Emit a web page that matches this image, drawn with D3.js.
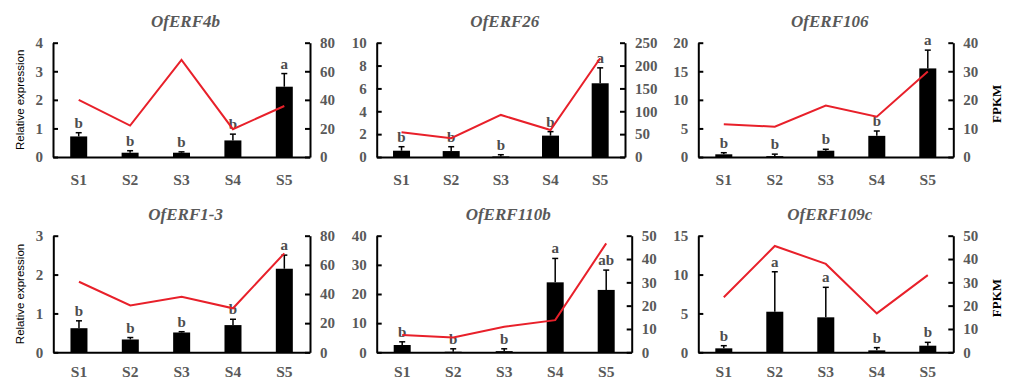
<!DOCTYPE html>
<html>
<head>
<meta charset="utf-8">
<script src="https://cdn.jsdelivr.net/npm/d3@7"></script>
<style>
  body { margin: 0; background: #fff; }
  svg { display: block; }
</style>
</head>
<body>
<svg id="chart" width="1010" height="381"></svg>
<script>
// ---------------- DATA ----------------
const categories = ["S1", "S2", "S3", "S4", "S5"];
const genes = ["OfERF4b", "OfERF26", "OfERF106", "OfERF1-3", "OfERF110b", "OfERF109c"];

// Relative expression (bars, left axis)
const relExpression = [
  [0.72, 0.15, 0.15, 0.58, 2.46],
  [0.55, 0.52, 0.05, 1.87, 6.45],
  [0.47, 0.15, 1.10, 3.70, 15.5],
  [0.62, 0.33, 0.51, 0.70, 2.15],
  [2.5, 0.2, 0.4, 24.0, 21.4],
  [0.51, 5.22, 4.50, 0.25, 0.85]
];
// Error (upper whisker size)
const relError = [
  [0.13, 0.07, 0.03, 0.22, 0.46],
  [0.35, 0.38, 0.15, 0.35, 1.35],
  [0.28, 0.35, 0.25, 0.85, 3.2],
  [0.19, 0.05, 0.02, 0.15, 0.35],
  [1.1, 1.0, 0.8, 8.2, 6.8],
  [0.34, 5.14, 3.86, 0.35, 0.43]
];
// FPKM (red line, right axis)
const fpkm = [
  [40, 22, 68, 19.5, 35.7],
  [54, 41, 92, 59, 216],
  [11.5, 10.6, 18, 14.1, 29.9],
  [48.4, 32.2, 38.1, 30.2, 67.9],
  [7.4, 6.4, 11, 13.8, 46.7],
  [23.6, 45.6, 37.9, 16.7, 33.1]
];
// Significance letters
const letters = [
  ["b", "b", "b", "b", "a"],
  ["b", "b", "b", "b", "a"],
  ["b", "b", "b", "b", "a"],
  ["b", "b", "b", "b", "a"],
  ["b", "b", "b", "a", "ab"],
  ["b", "a", "a", "b", "b"]
];
// Axis ranges / tick steps
const leftMax = [4, 10, 20, 3, 40, 15];
const leftStep = [1, 2, 5, 1, 10, 5];
const rightMax = [80, 250, 40, 80, 50, 50];
const rightStep = [20, 50, 10, 20, 10, 10];

const leftTitle = "Relative expression";
const rightTitle = "FPKM";

// ---------------- LAYOUT ----------------
const frames = [
  { x0: 53, x1: 310, y0: 42.7, y1: 157 },
  { x0: 376.7, x1: 625, y0: 42.7, y1: 157 },
  { x0: 698.3, x1: 953.3, y0: 42.7, y1: 157 },
  { x0: 53.3, x1: 310, y0: 235.7, y1: 352.3 },
  { x0: 376.7, x1: 631.7, y0: 235.7, y1: 352.3 },
  { x0: 698.3, x1: 953.3, y0: 235.7, y1: 352.3 }
];

const svg = d3.select("#chart");
svg.append("rect").attr("width", 1010).attr("height", 381).attr("fill", "#fff");

const gray = "#595959";
const serif = "'Liberation Serif', 'Times New Roman', serif";
const fmt = d3.format("~g");

genes.forEach((gene, i) => {
  const f = frames[i];
  const g = svg.append("g");

  const x = d3.scaleBand().domain(categories).range([f.x0, f.x1]);
  const yL = d3.scaleLinear().domain([0, leftMax[i]]).range([f.y1, f.y0]);
  const yR = d3.scaleLinear().domain([0, rightMax[i]]).range([f.y1, f.y0]);
  const barW = 17;

  // bars
  g.selectAll("rect.bar").data(categories).enter().append("rect")
    .attr("x", c => x(c) + x.bandwidth() / 2 - barW / 2)
    .attr("y", (c, j) => yL(relExpression[i][j]))
    .attr("width", barW)
    .attr("height", (c, j) => f.y1 - yL(relExpression[i][j]))
    .attr("fill", "#000");

  // error bars + letters
  categories.forEach((c, j) => {
    const cx = x(c) + x.bandwidth() / 2;
    const top = yL(relExpression[i][j] + relError[i][j]);
    g.append("line").attr("x1", cx).attr("x2", cx)
      .attr("y1", yL(relExpression[i][j])).attr("y2", top)
      .attr("stroke", "#000").attr("stroke-width", 1.5);
    g.append("line").attr("x1", cx - 3).attr("x2", cx + 3)
      .attr("y1", top).attr("y2", top)
      .attr("stroke", "#000").attr("stroke-width", 1.5);
    g.append("text").attr("x", cx).attr("y", top - 5)
      .attr("text-anchor", "middle")
      .attr("font-family", serif).attr("font-weight", "bold")
      .attr("font-size", 15).attr("fill", "#4d4d4d")
      .text(letters[i][j]);
  });

  // red line
  const line = d3.line()
    .x((d, j) => x(categories[j]) + x.bandwidth() / 2)
    .y(d => yR(d));
  g.append("path").datum(fpkm[i]).attr("d", line)
    .attr("fill", "none").attr("stroke", "#e8202a").attr("stroke-width", 2);

  // axes
  const lt = d3.range(0, leftMax[i] + leftStep[i] / 2, leftStep[i]);
  const rt = d3.range(0, rightMax[i] + rightStep[i] / 2, rightStep[i]);

  const axL = d3.axisLeft(yL).tickValues(lt).tickFormat(fmt).tickSizeInner(-5).tickSizeOuter(0).tickPadding(10);
  const axR = d3.axisRight(yR).tickValues(rt).tickFormat(fmt).tickSizeInner(-5).tickSizeOuter(0).tickPadding(10);

  const gl = g.append("g").attr("transform", `translate(${f.x0},0)`).call(axL);
  const gr = g.append("g").attr("transform", `translate(${f.x1},0)`).call(axR);
  [gl, gr].forEach(a => {
    a.select(".domain").attr("stroke", "#000").attr("stroke-width", 2);
    a.selectAll(".tick line").attr("stroke", "#000").attr("stroke-width", 2);
    a.selectAll(".tick text")
      .attr("font-family", serif).attr("font-weight", "bold")
      .attr("font-size", 15).attr("fill", gray);
  });

  const axB = d3.axisBottom(x).tickSize(0).tickPadding(i < 3 ? 17 : 14);
  const gb = g.append("g").attr("transform", `translate(0,${f.y1})`).call(axB);
  gb.select(".domain").attr("stroke", "#000").attr("stroke-width", 2);
  gb.selectAll(".tick text")
    .attr("font-family", serif).attr("font-weight", "bold")
    .attr("font-size", 15.5).attr("fill", gray);

  // title
  g.append("text")
    .attr("x", (f.x0 + f.x1) / 2 + 4)
    .attr("y", f.y0 - 16)
    .attr("text-anchor", "middle")
    .attr("font-family", serif).attr("font-weight", "bold").attr("font-style", "italic")
    .attr("font-size", 17).attr("fill", gray)
    .text(gene);

  // axis titles
  const cy = (f.y0 + f.y1) / 2;
  if (i % 3 === 0) {
    g.append("text")
      .attr("transform", `translate(${f.x0 - 29},${cy}) rotate(-90)`)
      .attr("text-anchor", "middle")
      .attr("font-family", "'Liberation Sans', Arial, sans-serif")
      .attr("font-size", 11.5).attr("fill", "#000")
      .text(leftTitle);
  }
  if (i % 3 === 2) {
    g.append("text")
      .attr("transform", `translate(${f.x1 + 48},${cy + 4}) rotate(-90)`)
      .attr("text-anchor", "middle")
      .attr("font-family", serif).attr("font-weight", "bold")
      .attr("font-size", 13).attr("fill", "#000")
      .text(rightTitle);
  }
});
</script>
</body>
</html>
